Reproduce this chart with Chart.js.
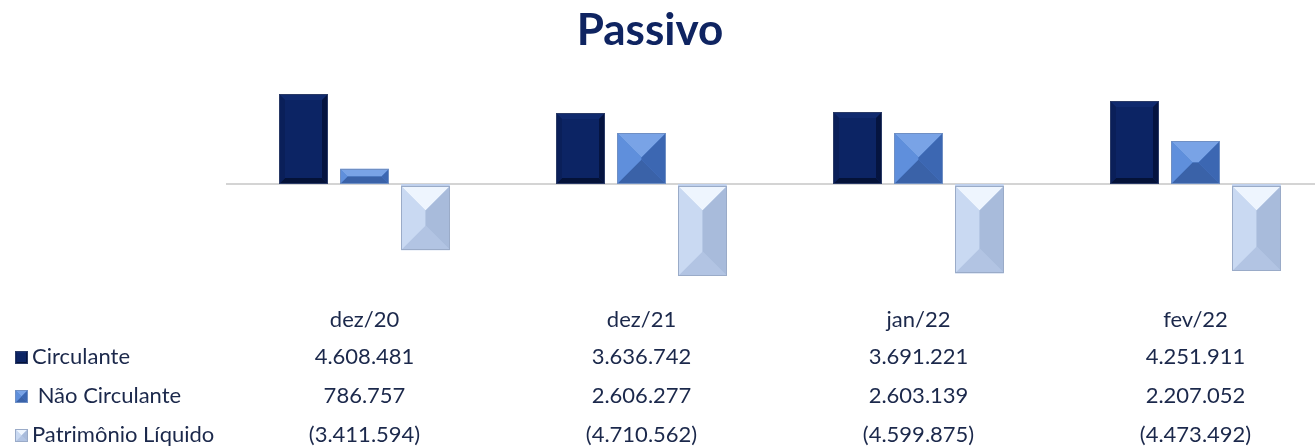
<!DOCTYPE html>
<html>
<head>
<meta charset="utf-8">
<script src="https://cdn.jsdelivr.net/npm/chart.js@4"></script>
<style>
  html, body { margin: 0; padding: 0; background: #fff; overflow: hidden; }
  #wrap { width: 1315px; height: 446px; overflow: hidden; }
</style>
</head>
<body>
<div id="wrap"><canvas id="myChart" width="1334" height="446"></canvas></div>
<script>
const TITULO = 'Passivo'
const categorias = ['dez/20', 'dez/21', 'jan/22', 'fev/22']
const series = ['Circulante', ' Não Circulante', 'Patrimônio Líquido']
const circulante = [4608481, 3636742, 3691221, 4251911]
const naoCirculante = [786757, 2606277, 2603139, 2207052]
const patrimonio = [-3411594, -4710562, -4599875, -4473492]

// cores do bisel: base, topo, esquerda, direita, baixo, borda
const estilos = [
    { base: '#0c2464', top: '#102a6e', left: '#0a1f59', right: '#051440', bottom: '#041238', edge: '#2a3a66', bevel: 6 },
    { base: '#4b7ccd', top: '#79a3e6', left: '#5f8fdc', right: '#3c67b2', bottom: '#3a62a8', edge: '#6f8fc4', bevel: 0 },
    { base: '#bfd0ec', top: '#eef5fe', left: '#c9d9f2', right: '#a8bbdb', bottom: '#b2c4e3', edge: '#9aabc8', bevel: 0 }
]

const fmt = (v) => {
    let s = Math.abs(v).toLocaleString('de-DE')
    return v < 0 ? '(' + s + ')' : s
}

const bisel = (ctx, L, T, R, B, st) => {
    let w = R - L, h = B - T
    let d = st.bevel ? Math.min(st.bevel, w / 2, h / 2) : Math.min(w, h) / 2
    ctx.save()
    ctx.fillStyle = st.base
    ctx.fillRect(L, T, w, h)
    const face = (pts, c) => {
        ctx.beginPath()
        ctx.moveTo(pts[0][0], pts[0][1])
        for (let i = 1; i < pts.length; i++) ctx.lineTo(pts[i][0], pts[i][1])
        ctx.closePath()
        ctx.fillStyle = c
        ctx.fill()
    }
    face([[L, T], [R, T], [R - d, T + d], [L + d, T + d]], st.top)
    face([[L, B], [R, B], [R - d, B - d], [L + d, B - d]], st.bottom)
    face([[L, T], [L + d, T + d], [L + d, B - d], [L, B]], st.left)
    face([[R, T], [R - d, T + d], [R - d, B - d], [R, B]], st.right)
    ctx.strokeStyle = st.edge
    ctx.lineWidth = 1
    ctx.strokeRect(L + 0.5, T + 0.5, w - 1, h - 1)
    ctx.restore()
}

const tabelaPlugin = {
    id: 'tabela',
    beforeDatasetsDraw(chart) {
        const ctx = chart.ctx
        const y0 = chart.scales.y.getPixelForValue(0)
        ctx.save()
        ctx.strokeStyle = '#d4d4d4'
        ctx.lineWidth = 2
        ctx.beginPath()
        ctx.moveTo(chart.chartArea.left, y0)
        ctx.lineTo(chart.width, y0)
        ctx.stroke()
        ctx.restore()
    },
    afterDatasetsDraw(chart) {
        const ctx = chart.ctx
        chart.data.datasets.forEach((ds, i) => {
            chart.getDatasetMeta(i).data.forEach(bar => {
                let p = bar.getProps(['x', 'y', 'base', 'width'], true)
                let L = Math.round(p.x - p.width / 2), R = Math.round(p.x + p.width / 2)
                let T = Math.round(Math.min(p.y, p.base)), B = Math.round(Math.max(p.y, p.base))
                if (p.y > p.base) T += 2
                bisel(ctx, L, T, R, B, estilos[i])
            })
        })
    },
    afterDraw(chart) {
        const ctx = chart.ctx
        const xs = chart.scales.x
        ctx.save()
        ctx.textBaseline = 'middle'

        // titulo
        ctx.fillStyle = '#0f2461'
        ctx.font = 'bold 44px Lato'
        ctx.textAlign = 'center'
        ctx.fillText(TITULO, 650, 31)

        ctx.fillStyle = '#1b284b'
        ctx.font = '22px Lato'
        const linhas = [320, 357, 396, 435]
        categorias.forEach((c, j) => {
            ctx.textAlign = 'center'
            ctx.fillText(c, xs.getPixelForValue(j), linhas[0])
        })
        chart.data.datasets.forEach((ds, i) => {
            let y = linhas[i + 1]
            bisel(ctx, 15, Math.round(y - 6), 28, Math.round(y + 7), Object.assign({}, estilos[i], { bevel: estilos[i].bevel ? 2 : 0 }))
            ctx.fillStyle = '#1b284b'
            ctx.textAlign = 'left'
            ctx.fillText(ds.label, 32, y)
            ds.data.forEach((v, j) => {
                ctx.textAlign = 'center'
                ctx.fillText(fmt(v), xs.getPixelForValue(j), y)
            })
        })
        ctx.restore()
    }
}

const ctx = document.getElementById('myChart')
const myChart = new Chart(ctx, {
    type: 'bar',
    data: {
        labels: categorias,
        datasets: [
            { label: series[0], data: circulante, backgroundColor: estilos[0].base },
            { label: series[1], data: naoCirculante, backgroundColor: estilos[1].base },
            { label: series[2], data: patrimonio, backgroundColor: estilos[2].base }
        ]
    },
    options: {
        responsive: false,
        animation: false,
        events: [],
        categoryPercentage: 0.66,
        barPercentage: 0.8,
        layout: { padding: { left: 226, top: 77, right: 0, bottom: 155 } },
        plugins: {
            legend: { display: false },
            title: { display: false },
            tooltip: { enabled: false }
        },
        scales: {
            x: { display: false },
            y: { display: false, min: -5500000, max: 5500000 }
        }
    },
    plugins: [tabelaPlugin]
})
</script>
</body>
</html>
